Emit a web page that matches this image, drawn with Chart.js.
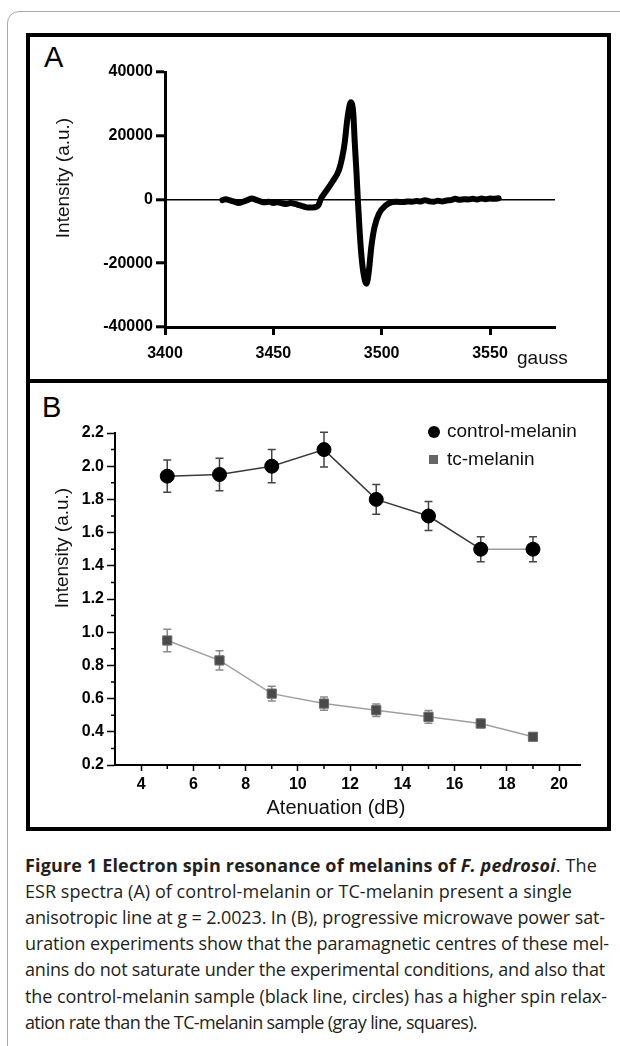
<!DOCTYPE html>
<html><head><meta charset="utf-8">
<script src="https://cdn.jsdelivr.net/npm/chart.js@4/dist/chart.umd.min.js"></script>
<style>
html,body{margin:0;padding:0;background:#fff;}
body{width:620px;height:1046px;position:relative;overflow:hidden;font-family:"Liberation Sans",Arial,sans-serif;}
#card{position:absolute;left:7px;top:11px;width:660px;height:1080px;border:1px solid #a8a8a8;border-top-left-radius:12px;}
#frame{position:absolute;left:26px;top:33px;width:577px;height:790px;border:4px solid #000;}
#divider{position:absolute;left:26px;top:379px;width:585px;height:4px;background:#000;}
.plabel{position:absolute;font-size:29px;line-height:1;color:#000;}
canvas{position:absolute;}
.cap{position:absolute;left:25px;white-space:nowrap;font-family:"Open Sans","Noto Sans",sans-serif;font-size:18px;line-height:1;color:#231f20;}
</style></head>
<body>
<div id="card"></div>
<div id="frame"></div>
<div id="divider"></div>
<div class="plabel" style="left:44px;top:43px;">A</div>
<div class="plabel" style="left:42px;top:393px;">B</div>
<canvas id="cA" width="577" height="342" style="left:30px;top:37px;width:577px;height:342px;"></canvas>
<canvas id="cB" width="577" height="444" style="left:30px;top:383px;width:577px;height:444px;"></canvas>
<div id="caption"></div>
<script>
// ---------- Panel A data (ESR spectrum) ----------
const gaussA = [3426.5,3428,3430,3432,3434,3436,3438,3440,3442,3444,3446,3448,3450,3452,3454,3456,3458,3460,3462,3464,3466,3468,3470,3471,3471.8,3474,3477.2,3480.2,3481.8,3482.9,3484.1,3485.2,3485.7,3486.9,3487.6,3488.4,3489,3489.9,3491,3492.3,3493,3494.1,3495.2,3496.7,3498.8,3501.8,3504.9,3507,3510,3512,3514,3516,3518,3520,3522,3524,3526,3528,3530,3532,3534,3536,3538,3540,3542,3544,3546,3548,3550,3552,3554];
const intensityA = [-200,100,-300,-700,-1100,-700,-200,300,-100,-600,-900,-700,-1100,-900,-1200,-1400,-1100,-1400,-1800,-2200,-2500,-2500,-2300,-1500,0,2300,5500,9100,13300,17600,24900,29500,30500,27000,17600,8200,0,-10700,-20000,-25500,-26400,-22400,-15000,-8700,-4400,-1900,-800,-700,-800,-600,-700,-500,-600,-200,-600,-700,-400,-600,-300,-200,200,-100,100,0,200,0,300,100,300,200,400];
const xTicksA = [3400,3450,3500,3550];
const yTicksA = [-40000,-20000,0,20000,40000];

// ---------- Panel B data (saturation) ----------
const atten = [5,7,9,11,13,15,17,19];
const control = [1.94,1.95,2.00,2.10,1.80,1.70,1.50,1.50];
const controlErr = [0.097,0.098,0.10,0.105,0.09,0.087,0.075,0.075];
const tc = [0.95,0.83,0.63,0.57,0.53,0.49,0.45,0.37];
const tcErr = [0.068,0.058,0.045,0.04,0.038,0.038,0.025,0.015];
const xTicksB = [4,6,8,10,12,14,16,18,20];
const xMinorB = [5,7,9,11,13,15,17,19];
const yTicksB = [0.2,0.4,0.6,0.8,1.0,1.2,1.4,1.6,1.8,2.0,2.2];
const yMinorB = [0.3,0.5,0.7,0.9,1.1,1.3,1.5,1.7,1.9,2.1];
const seriesNames = ['control-melanin','tc-melanin'];

const FAM = '"Liberation Sans", Arial, Helvetica, sans-serif';
const tickFont = {family: FAM, size: 16, weight: 'bold'};

function drawText(ctx, txt, x, y, size, rot, align){
  ctx.save();
  ctx.translate(x, y);
  if (rot) ctx.rotate(rot);
  ctx.font = size + 'px ' + FAM;
  ctx.fillStyle = '#111';
  ctx.textAlign = align || 'center';
  ctx.textBaseline = 'middle';
  ctx.fillText(txt, 0, 0);
  ctx.restore();
}

// ---------- Chart A ----------
const extrasA = {
  id: 'extrasA',
  afterDraw(chart){
    const ctx = chart.ctx;
    drawText(ctx, 'Intensity (a.u.)', 34, 141, 19, -Math.PI/2);
    const xs = chart.scales.x;
    drawText(ctx, 'gauss', xs.getPixelForValue(3550) + 27, 322, 19, 0, 'left');
  }
};
new Chart(document.getElementById('cA'), {
  type: 'line',
  data: { datasets: [{
    data: gaussA.map((g, i) => ({x: g, y: intensityA[i]})),
    borderColor: '#000', borderWidth: 6, pointRadius: 0,
    cubicInterpolationMode: 'monotone', borderCapStyle: 'round', borderJoinStyle: 'round', fill: false
  }]},
  options: {
    responsive: false, animation: false, devicePixelRatio: 1, events: [],
    plugins: {legend: {display: false}, tooltip: {enabled: false}},
    layout: {padding: {left: 0, top: 35, right: 52, bottom: 0}},
    scales: {
      x: {
        type: 'linear', min: 3400, max: 3580,
        afterBuildTicks: s => { s.ticks = xTicksA.map(v => ({value: v})); },
        afterFit: s => { s.height = 52; },
        grid: {drawOnChartArea: false, drawTicks: true, tickLength: 8, tickWidth: 3, tickColor: '#000', color: '#000'},
        border: {display: true, color: '#000', width: 3},
        ticks: {color: '#000', font: tickFont, padding: 9, maxRotation: 0, autoSkip: false, callback: v => String(v)}
      },
      y: {
        type: 'linear', min: -40000, max: 40000,
        afterBuildTicks: s => { s.ticks = yTicksA.map(v => ({value: v})); },
        afterFit: s => { s.width = 135; },
        grid: {drawOnChartArea: true, drawTicks: true, tickLength: 9, tickWidth: 3, tickColor: '#000',
               color: c => (c.tick && c.tick.value === 0) ? '#000' : 'rgba(0,0,0,0)', lineWidth: 1.6},
        border: {display: true, color: '#000', width: 3},
        ticks: {color: '#000', font: tickFont, padding: 3, autoSkip: false, callback: v => String(v)}
      }
    }
  },
  plugins: [extrasA]
});

// ---------- Chart B ----------
const extrasB = {
  id: 'extrasB',
  beforeDatasetsDraw(chart){
    const ctx = chart.ctx, xs = chart.scales.x, ys = chart.scales.y;
    const sets = [[control, controlErr, '#444'], [tc, tcErr, '#8a8a8a']];
    ctx.save();
    ctx.lineWidth = 1.5;
    sets.forEach(([vals, errs, col]) => {
      ctx.strokeStyle = col;
      vals.forEach((v, i) => {
        const px = xs.getPixelForValue(atten[i]);
        const t = ys.getPixelForValue(v + errs[i]);
        const b = ys.getPixelForValue(v - errs[i]);
        ctx.beginPath();
        ctx.moveTo(px, t); ctx.lineTo(px, b);
        ctx.moveTo(px - 4, t); ctx.lineTo(px + 4, t);
        ctx.moveTo(px - 4, b); ctx.lineTo(px + 4, b);
        ctx.stroke();
      });
    });
    ctx.restore();
  },
  afterDraw(chart){
    const ctx = chart.ctx, xs = chart.scales.x, ys = chart.scales.y;
    const ca = chart.chartArea;
    ctx.save();
    ctx.strokeStyle = '#000'; ctx.lineWidth = 1.5;
    ctx.beginPath();
    xMinorB.forEach(v => { const p = xs.getPixelForValue(v); ctx.moveTo(p, ca.bottom); ctx.lineTo(p, ca.bottom + 4); });
    yMinorB.forEach(v => { const p = ys.getPixelForValue(v); ctx.moveTo(ca.left - 4, p); ctx.lineTo(ca.left, p); });
    ctx.stroke();
    // legend
    ctx.fillStyle = '#000';
    ctx.beginPath(); ctx.arc(404, 49, 6, 0, Math.PI * 2); ctx.fill();
    ctx.fillStyle = '#666';
    ctx.fillRect(399, 72, 9, 9);
    ctx.restore();
    drawText(ctx, seriesNames[0], 417, 49, 19, 0, 'left');
    drawText(ctx, seriesNames[1], 417, 77, 19, 0, 'left');
    drawText(ctx, 'Intensity (a.u.)', 33, 165, 19, -Math.PI/2);
    drawText(ctx, 'Atenuation (dB)', 306, 425, 20, 0);
  }
};
new Chart(document.getElementById('cB'), {
  type: 'line',
  data: { datasets: [
    { label: seriesNames[0], data: atten.map((a, i) => ({x: a, y: control[i]})),
      borderColor: '#3a3a3a', borderWidth: 1.5, pointStyle: 'circle', pointRadius: 7,
      pointBackgroundColor: '#000', pointBorderColor: '#000', pointBorderWidth: 1, tension: 0,
      segment: {borderColor: c => c.p0DataIndex === 6 ? '#9a9a9a' : '#3a3a3a'} },
    { label: seriesNames[1], data: atten.map((a, i) => ({x: a, y: tc[i]})),
      borderColor: '#a0a0a0', borderWidth: 1.5, pointStyle: 'rect', pointRadius: 6.5,
      pointBackgroundColor: '#4a4a4a', pointBorderColor: '#6a6a6a', pointBorderWidth: 1, tension: 0 }
  ]},
  options: {
    responsive: false, animation: false, devicePixelRatio: 1, events: [],
    plugins: {legend: {display: false}, tooltip: {enabled: false}},
    layout: {padding: {left: 0, top: 50, right: 27, bottom: 0}},
    scales: {
      x: {
        type: 'linear', min: 3, max: 20.8,
        afterBuildTicks: s => { s.ticks = xTicksB.map(v => ({value: v})); },
        afterFit: s => { s.height = 62; },
        grid: {drawOnChartArea: false, drawTicks: true, tickLength: 6, tickWidth: 1.5, tickColor: '#000', color: '#000'},
        border: {display: true, color: '#000', width: 2},
        ticks: {color: '#000', font: tickFont, padding: 4, maxRotation: 0, autoSkip: false, callback: v => String(v)}
      },
      y: {
        type: 'linear', min: 0.2, max: 2.2,
        afterBuildTicks: s => { s.ticks = yTicksB.map(v => ({value: v})); },
        afterFit: s => { s.width = 85; },
        grid: {drawOnChartArea: false, drawTicks: true, tickLength: 8, tickWidth: 1.5, tickColor: '#000', color: '#000'},
        border: {display: true, color: '#000', width: 2},
        ticks: {color: '#000', font: tickFont, padding: 3, autoSkip: false, callback: v => Number(v).toFixed(1)}
      }
    }
  },
  plugins: [extrasB]
});

// ---------- Caption ----------
const capLines = [
  '<b>Figure 1 Electron spin resonance of melanins of <i>F. pedrosoi</i></b>. The',
  'ESR spectra (A) of control-melanin or TC-melanin present a single',
  'anisotropic line at g = 2.0023. In (B), progressive microwave power sat-',
  'uration experiments show that the paramagnetic centres of these mel-',
  'anins do not saturate under the experimental conditions, and also that',
  'the control-melanin sample (black line, circles) has a higher spin relax-',
  'ation rate than the TC-melanin sample (gray line, squares).'
];
const capWidths = [572, 547, 580, 584, 580, 582, 452];
const capEl = document.getElementById('caption');
capLines.forEach((html, i) => {
  const d = document.createElement('div');
  d.className = 'cap';
  d.innerHTML = html;
  d.style.top = (872 + i * 26.1 - 16) + 'px';
  capEl.appendChild(d);
  const w = d.getBoundingClientRect().width;
  const n = d.textContent.length;
  d.style.letterSpacing = ((capWidths[i] - w) / n).toFixed(3) + 'px';
});
</script>
</body></html>
